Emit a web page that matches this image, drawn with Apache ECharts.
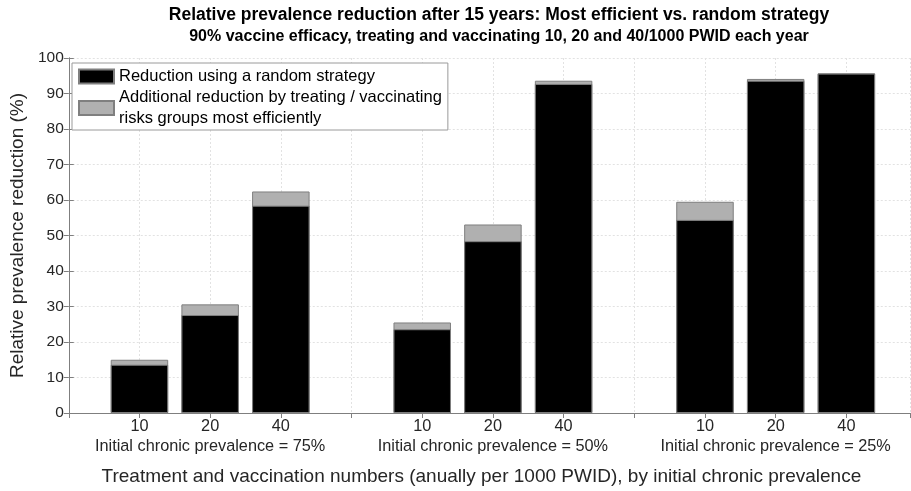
<!DOCTYPE html>
<html>
<head>
<meta charset="utf-8">
<script src="https://cdn.jsdelivr.net/npm/echarts@6/dist/echarts.min.js"></script>
<style>html,body{margin:0;padding:0;background:#fff}#c{width:911px;height:491px}</style>
</head>
<body>
<div id="c"></div>
<script>
// ---- data ----
var xPositions = [1, 2, 3, 5, 6, 7, 9, 10, 11];
var tickLabels = ['', '10', '20', '40', '', '10', '20', '40', '', '10', '20', '40'];
var groupLabels = ['Initial chronic prevalence = 75%', 'Initial chronic prevalence = 50%', 'Initial chronic prevalence = 25%'];
var groupCenters = [2, 6, 10];
var randomReduction = [13.6, 27.6, 58.4, 23.6, 48.4, 92.7, 54.4, 93.6, 95.6];
var totalReduction = [15.0, 30.6, 62.4, 25.5, 53.1, 93.6, 59.5, 94.1, 95.7];
var seriesNames = ['Reduction using a random strategy', 'Additional reduction by treating / vaccinating risks groups most efficiently'];
var legendLabels = ['Reduction using a random strategy', 'Additional reduction by treating / vaccinating\nrisks groups most efficiently'];
var titleText = 'Relative prevalence reduction after 15 years: Most efficient vs. random strategy';
var subtitleText = '90% vaccine efficacy, treating and vaccinating 10, 20 and 40/1000 PWID each year';
var xAxisName = 'Treatment and vaccination numbers (anually per 1000 PWID), by initial chronic prevalence';
var yAxisName = 'Relative prevalence reduction (%)';

// ---- chart ----
var FONT = '"Liberation Sans", Arial, sans-serif';
var AX = '#7f7f7f', TXT = '#262626';
var chart = echarts.init(document.getElementById('c'), null, {renderer: 'canvas'});

function pairs(arr) { return xPositions.map(function (x, i) { return [x, arr[i]]; }); }

var option = {
  animation: false,
  backgroundColor: '#fff',
  textStyle: {fontFamily: FONT},
  title: {
    text: titleText,
    subtext: subtitleText,
    left: 494, textAlign: 'center',
    top: 1,
    itemGap: 5,
    textStyle: {fontFamily: FONT, fontSize: 17.5, fontWeight: 'bold', color: '#000'},
    subtextStyle: {fontFamily: FONT, fontSize: 16, fontWeight: 'bold', color: '#000'}
  },
  grid: {left: 65, right: 1, top: 58, bottom: 77, show: false, containLabel: false},
  legend: {
    orient: 'vertical',
    left: 72, top: 63,
    padding: [3, 6, 1, 6],
    itemGap: 0,
    icon: 'rect',
    itemWidth: 35, itemHeight: 14,
    backgroundColor: '#fff',
    borderColor: '#9a9a9a', borderWidth: 1,
    data: seriesNames,
    formatter: function (n) { return legendLabels[seriesNames.indexOf(n)]; },
    textStyle: {fontFamily: FONT, fontSize: 16.5, lineHeight: 21, color: '#000'}
  },
  xAxis: [{
    type: 'value', min: 0, max: 11.9, interval: 1, position: 'bottom',
    name: xAxisName, nameLocation: 'middle', nameGap: 54,
    nameTextStyle: {fontFamily: FONT, fontSize: 19, color: TXT, padding: [0, 16, 0, 0]},
    axisLine: {show: true, lineStyle: {color: AX, width: 1}},
    axisTick: {show: false},
    splitLine: {show: true, lineStyle: {color: '#e2e2e2', type: [2, 2], width: 1}},
    axisLabel: {
      fontFamily: FONT, fontSize: 16.3, color: TXT, lineHeight: 20, margin: 4,
      showMaxLabel: false, showMinLabel: false,
      formatter: function (v) {
        var r = Math.round(v);
        if (Math.abs(v - r) > 1e-6) return '';
        var s = tickLabels[r] || '';
        var g = groupCenters.indexOf(r);
        if (g >= 0) s += '\n' + groupLabels[g];
        return s;
      }
    }
  }, {
    type: 'value', min: 0, max: 11.9, interval: 1, position: 'top',
    axisLine: {show: true, lineStyle: {color: AX, width: 1}},
    axisTick: {show: true, inside: true, length: 5, lineStyle: {color: AX}},
    axisLabel: {show: false},
    splitLine: {show: false}
  }],
  yAxis: [{
    type: 'value', min: 0, max: 100, interval: 10,
    name: yAxisName, nameLocation: 'middle', nameGap: 35, nameRotate: 90,
    nameTextStyle: {fontFamily: FONT, fontSize: 19, color: TXT},
    axisLine: {show: true, lineStyle: {color: AX, width: 1}},
    axisTick: {show: true, inside: true, length: 5, lineStyle: {color: AX}},
    splitLine: {show: true, lineStyle: {color: '#e2e2e2', type: [2, 2], width: 1}},
    axisLabel: {fontFamily: FONT, fontSize: 15.5, color: TXT, margin: 5}
  }, {
    type: 'value', min: 0, max: 100, interval: 10, position: 'right',
    axisLine: {show: true, lineStyle: {color: AX, width: 1}},
    axisTick: {show: true, inside: true, length: 5, lineStyle: {color: AX}},
    axisLabel: {show: false},
    splitLine: {show: false}
  }],
  series: [{
    name: seriesNames[1], type: 'bar', barWidth: 57.5, barGap: '-100%',
    data: pairs(totalReduction),
    itemStyle: {color: '#b0b0b0', borderColor: '#7f7f7f', borderWidth: 1}
  }, {
    name: seriesNames[0], type: 'bar', barWidth: 57.5, barGap: '-100%',
    data: pairs(randomReduction),
    itemStyle: {color: '#000', borderColor: '#7f7f7f', borderWidth: 1}
  }]
};
chart.setOption(option);
</script>
</body>
</html>
